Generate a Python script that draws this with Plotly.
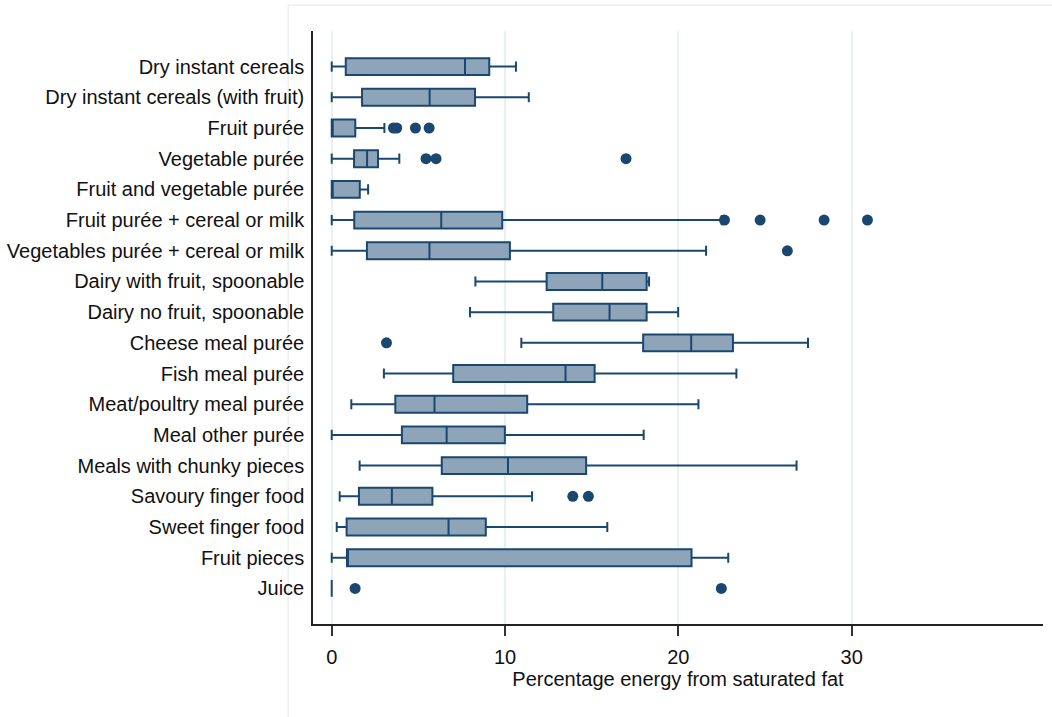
import plotly.graph_objects as go

# Food categories, top to bottom
categories = [
    "Dry instant cereals",
    "Dry instant cereals (with fruit)",
    "Fruit purée",
    "Vegetable purée",
    "Fruit and vegetable purée",
    "Fruit purée + cereal or milk",
    "Vegetables purée + cereal or milk",
    "Dairy with fruit, spoonable",
    "Dairy no fruit, spoonable",
    "Cheese meal purée",
    "Fish meal purée",
    "Meat/poultry meal purée",
    "Meal other purée",
    "Meals with chunky pieces",
    "Savoury finger food",
    "Sweet finger food",
    "Fruit pieces",
    "Juice",
]

# Box statistics (% energy from saturated fat)
lower_whisker = [0.0, 0.0, 0.0, 0.0, 0.0, 0.0, 0.0, 8.29, 7.98, 10.94, 3.01, 1.13, 0.0, 1.61, 0.46, 0.29, 0.0, 0.0]
q1_values = [0.81, 1.75, 0.0, 1.29, 0.0, 1.30, 2.03, 12.40, 12.78, 17.97, 7.01, 3.67, 4.05, 6.35, 1.57, 0.86, 0.88, 0.0]
median_values = [7.69, 5.65, 0.0, 2.04, 0.0, 6.32, 5.64, 15.61, 16.03, 20.74, 13.49, 5.93, 6.63, 10.17, 3.47, 6.74, 0.88, 0.0]
q3_values = [9.09, 8.27, 1.36, 2.67, 1.62, 9.84, 10.28, 18.17, 18.17, 23.15, 15.17, 11.28, 9.99, 14.68, 5.81, 8.89, 20.76, 0.0]
upper_whisker = [10.63, 11.37, 3.04, 3.90, 2.10, 22.50, 21.60, 18.31, 19.99, 27.48, 23.35, 21.16, 18.00, 26.82, 11.56, 15.90, 22.88, 0.0]

# Outside values
outlier_category = [
    "Fruit purée", "Fruit purée", "Fruit purée", "Fruit purée",
    "Vegetable purée", "Vegetable purée", "Vegetable purée",
    "Fruit purée + cereal or milk", "Fruit purée + cereal or milk",
    "Fruit purée + cereal or milk", "Fruit purée + cereal or milk",
    "Vegetables purée + cereal or milk",
    "Cheese meal purée",
    "Savoury finger food", "Savoury finger food",
    "Juice", "Juice",
]
outlier_value = [
    3.56, 3.75, 4.83, 5.62,
    5.44, 6.02, 16.98,
    22.66, 24.72, 28.41, 30.91,
    26.29,
    3.16,
    13.91, 14.81,
    1.35, 22.48,
]

x_ticks = [0, 10, 20, 30]

NAVY = "#1a476f"
FILL = "#8ea4b9"
FONT = "Liberation Sans, Arial, sans-serif"
LABEL_FONT = dict(family=FONT, size=20, color="#111111")

fig = go.Figure()

fig.add_trace(go.Box(
    y=categories,
    lowerfence=lower_whisker,
    q1=q1_values,
    median=median_values,
    q3=q3_values,
    upperfence=upper_whisker,
    orientation="h",
    boxpoints=False,
    fillcolor=FILL,
    line=dict(color=NAVY, width=2),
    width=0.55,
    whiskerwidth=0.6,
    showlegend=False,
    hoverinfo="skip",
))

fig.add_trace(go.Scatter(
    x=outlier_value,
    y=outlier_category,
    mode="markers",
    marker=dict(color=NAVY, size=11, line=dict(width=0)),
    showlegend=False,
    hoverinfo="skip",
))

# Faint outer graph-region frame
fig.add_shape(
    type="rect", xref="paper", yref="paper",
    x0=-0.034, x1=1.05, y0=-0.2, y1=1.044,
    line=dict(color="#edf0f0", width=1.5),
    fillcolor="rgba(0,0,0,0)", layer="below",
)

fig.update_layout(
    width=1052,
    height=717,
    margin=dict(l=313, r=9, t=31, b=93),
    paper_bgcolor="white",
    plot_bgcolor="white",
    font=LABEL_FONT,
    xaxis=dict(
        range=[-1.08, 41.04],
        tickvals=x_ticks,
        ticktext=[str(v) for v in x_ticks],
        ticks="outside",
        ticklen=10,
        tickwidth=1.5,
        tickcolor="#333333",
        ticklabelstandoff=4,
        showline=True,
        linecolor="#222222",
        linewidth=2,
        showgrid=True,
        gridcolor="#e8f0f2",
        gridwidth=2,
        zeroline=False,
        automargin=False,
        title=dict(text="Percentage energy from saturated fat", standoff=4,
                   font=LABEL_FONT),
        tickfont=LABEL_FONT,
    ),
    yaxis=dict(
        type="category",
        categoryorder="array",
        categoryarray=categories,
        range=[18.16, -1.16],
        showline=True,
        linecolor="#222222",
        linewidth=1.5,
        ticks="",
        ticklabelstandoff=3,
        showgrid=False,
        zeroline=False,
        automargin=False,
        tickfont=LABEL_FONT,
    ),
)

fig.write_html("out.html")
